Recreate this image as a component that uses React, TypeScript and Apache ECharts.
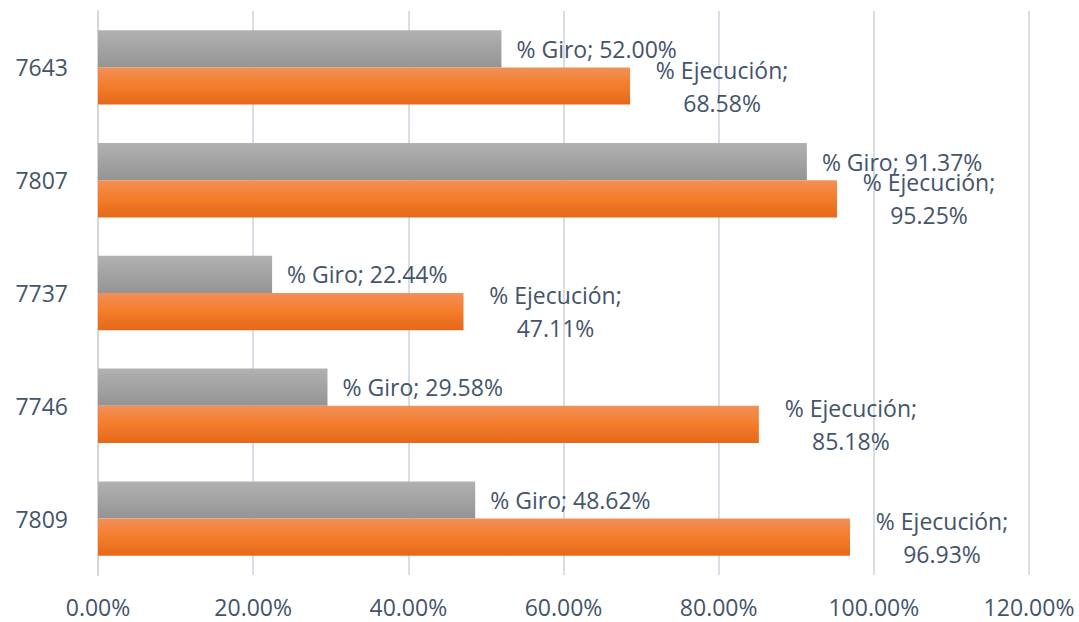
import React, { useEffect, useRef } from "react";
import * as echarts from "echarts";

const categories = ["7643", "7807", "7737", "7746", "7809"];
const giro = [52.0, 91.37, 22.44, 29.58, 48.62];
const ejecucion = [68.58, 95.25, 47.11, 85.18, 96.93];
const giroName = "% Giro";
const ejecName = "% Ejecución";

const FONT = "Open Sans";
const TEXT = "#44546A";
const FS = 23;

export default function App() {
  const ref = useRef<HTMLDivElement>(null);
  useEffect(() => {
    const chart = echarts.init(ref.current!, undefined, { renderer: "svg" });
    chart.setOption({
      animation: false,
      backgroundColor: "#ffffff",
      grid: { left: 98, right: 50, top: 11, bottom: 47 },
      xAxis: {
        type: "value",
        min: 0,
        max: 120,
        interval: 20,
        axisLine: { show: false },
        axisTick: { show: false },
        axisLabel: {
          color: TEXT,
          fontFamily: FONT,
          fontSize: FS,
          margin: 20,
          formatter: (v: number) => v.toFixed(2) + "%",
        },
        splitLine: { show: true, lineStyle: { color: "#D9DEE6", width: 2 } },
      },
      yAxis: {
        type: "category",
        data: categories,
        inverse: true,
        axisLine: { show: true, lineStyle: { color: "#D3D6DC", width: 2 } },
        axisTick: { show: false },
        axisLabel: { color: TEXT, fontFamily: FONT, fontSize: FS, margin: 30 },
        splitLine: { show: false },
      },
      series: [
        {
          name: giroName,
          type: "bar",
          data: giro,
          barGap: "0%",
          barCategoryGap: "34%",
          itemStyle: {
            color: new echarts.graphic.LinearGradient(0, 0, 0, 1, [
              { offset: 0, color: "#B1B1B1" },
              { offset: 1, color: "#949494" },
            ]),
          },
          label: {
            show: true,
            position: "right",
            distance: 15,
            color: TEXT,
            fontFamily: FONT,
            fontSize: FS,
            formatter: (p: any) => giroName + "; " + p.value.toFixed(2) + "%",
          },
        },
        {
          name: ejecName,
          type: "bar",
          data: ejecucion,
          barGap: "0%",
          barCategoryGap: "34%",
          itemStyle: {
            color: new echarts.graphic.LinearGradient(0, 0, 0, 1, [
              { offset: 0, color: "#F29057" },
              { offset: 0.5, color: "#F47C2A" },
              { offset: 1, color: "#E4691A" },
            ]),
          },
          label: {
            show: true,
            position: "right",
            distance: 0,
            align: "center",
            offset: [92, 0],
            lineHeight: 33,
            color: TEXT,
            fontFamily: FONT,
            fontSize: FS,
            formatter: (p: any) => ejecName + ";\n" + p.value.toFixed(2) + "%",
          },
        },
      ],
    });
    return () => chart.dispose();
  }, []);
  return <div ref={ref} style={{ width: 1079, height: 622, position: "absolute", left: 0, top: 0 }} />;
}
